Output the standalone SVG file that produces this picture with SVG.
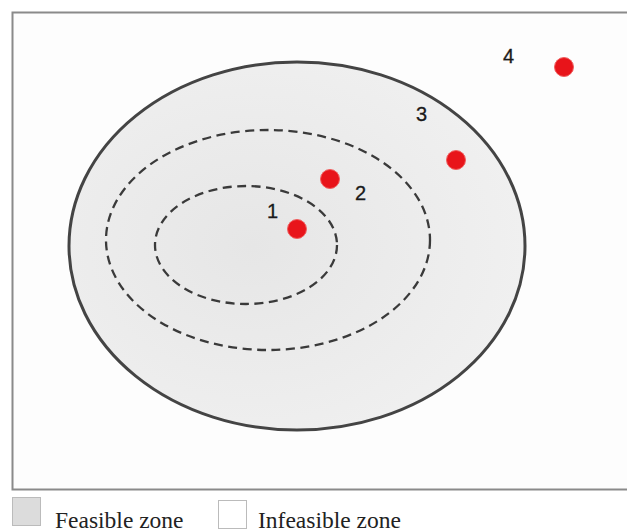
<svg xmlns="http://www.w3.org/2000/svg" width="627" height="532" viewBox="0 0 627 532">
<style>
.dash{fill:none;stroke:#3a3a3a;stroke-width:2.3;stroke-dasharray:9 5.5}
.dot{fill:#e8141a;stroke:#f06060;stroke-width:1}
.num{font-family:"Liberation Sans",Arial,sans-serif;font-size:20px;fill:#1a1a1a;stroke:#1a1a1a;stroke-width:0.3}
.leg{font-family:"Liberation Serif","Times New Roman",serif;font-size:23.5px;fill:#222}
</style>
<defs>
<radialGradient id="g" cx="0.4" cy="0.5" r="0.6">
<stop offset="0" stop-color="#e6e6e6"/>
<stop offset="1" stop-color="#f0f0f0"/>
</radialGradient>
</defs>
<rect x="0" y="0" width="627" height="532" fill="#ffffff"/>
<rect id="frame" x="12.5" y="12.5" width="630" height="477" fill="#fdfdfd" stroke="#8a8a8a" stroke-width="2"/>
<g id="feasible">
<ellipse cx="297" cy="246" rx="228" ry="184" fill="url(#g)" stroke="#444" stroke-width="3"/>
</g>
<g id="zone2"><ellipse class="dash" cx="268" cy="240" rx="162" ry="110"/></g>
<g id="zone1"><ellipse class="dash" cx="246" cy="245" rx="91" ry="59"/></g>
<g id="p1"><circle class="dot" cx="297" cy="229" r="9.5"/><text class="num" x="267" y="218">1</text></g>
<g id="p2"><circle class="dot" cx="330" cy="179" r="9.5"/><text class="num" x="355" y="200">2</text></g>
<g id="p3"><circle class="dot" cx="456" cy="160" r="9.5"/><text class="num" x="416" y="121">3</text></g>
<g id="p4"><circle class="dot" cx="564" cy="67" r="9.5"/><text class="num" x="503" y="63">4</text></g>
<g id="legend">
<rect x="12.5" y="497.5" width="28" height="28" fill="#dcdcdc" stroke="#bbb" stroke-width="1"/>
<text class="leg" x="55" y="528">Feasible zone</text>
<rect x="218.5" y="500.5" width="28" height="28" fill="#fff" stroke="#bbb" stroke-width="1"/>
<text class="leg" x="258" y="528">Infeasible zone</text>
</g>
</svg>
